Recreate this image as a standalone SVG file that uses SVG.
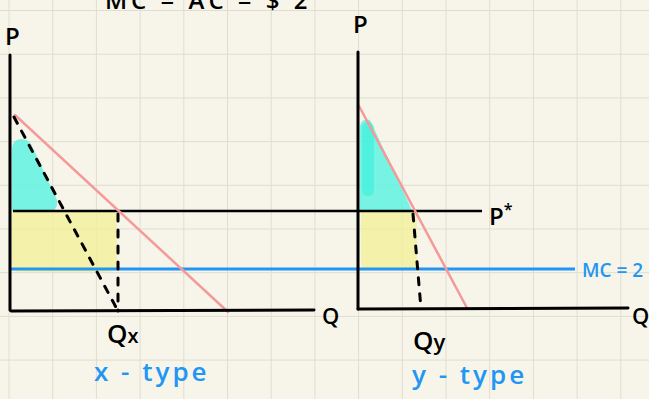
<svg xmlns="http://www.w3.org/2000/svg" width="649" height="399" viewBox="0 0 649 399">
<defs>
<pattern id="grid" x="8.5" y="10" width="43.7" height="43.7" patternUnits="userSpaceOnUse">
<path d="M0 0 H43.7 M0 0 V43.7" fill="none" stroke="#e0ddd0" stroke-width="2"/>
</pattern>
<style>
.axis{stroke:#000;stroke-width:3;fill:none;stroke-linecap:round}
.pstar{stroke:#000;stroke-width:2.5;fill:none}
.demand{stroke:#f59a9a;stroke-width:2.5;fill:none;stroke-linecap:round}
.dash{stroke:#000;stroke-width:3;fill:none;stroke-dasharray:7 9;stroke-linecap:round}
.mc{stroke:#2196f3;stroke-width:3;fill:none}
.yellow{fill:#f3f09a;opacity:0.8}
.cyan{fill:#5ff2e0;opacity:0.85}
.lbl{font-family:"Open Sans","DejaVu Sans",sans-serif;fill:#000;font-weight:600}
.blue{font-family:"Open Sans","DejaVu Sans",sans-serif;fill:#2196f3;font-weight:600}
</style>
</defs>
<rect width="649" height="399" fill="#f7f5ea"/>
<rect width="649" height="399" fill="url(#grid)"/>
<text class="lbl" x="105" y="9" font-size="24" letter-spacing="4">MC = AC = $ 2</text>

<g id="shading">
<path class="yellow" d="M12 211 H117 V262 Q117 272 107 272 H20 Q12 272 12 262 Z"/>
<path class="cyan" d="M12 150 Q12 139 22 139 Q30 139 34 150 L57 200 Q58 211 50 211 H12 Z"/>
<path class="yellow" d="M361 211 H417 V262 Q417 270 409 270 H368 Q361 270 361 262 Z"/>
<path class="cyan" d="M360 126 Q362 118 370 120 L410 206 L412 211 H360 Z"/>
<path d="M368 128 L368 190" stroke="#2cf0dc" stroke-width="12" stroke-linecap="round" opacity="0.5" fill="none"/>
</g>

<g id="connectors">
<line class="pstar" x1="13" y1="211" x2="482" y2="211"/>
<line class="mc" x1="10" y1="269" x2="575" y2="269"/>
<line class="demand" x1="15" y1="115" x2="228" y2="312"/>
<line class="dash" x1="14" y1="117" x2="118" y2="311"/>
<line class="dash" x1="118" y1="214" x2="118" y2="311"/>
<line class="demand" x1="359" y1="106" x2="467" y2="308"/>
<line class="dash" x1="413" y1="214" x2="421" y2="309"/>
</g>

<g id="left-axes">
<line class="axis" x1="10" y1="55" x2="10" y2="310"/>
<line class="axis" x1="11" y1="311" x2="314" y2="310"/>
<text class="lbl" x="5" y="45" font-size="24">P</text>
<text class="lbl" x="322" y="324" font-size="22">Q</text>
<text class="lbl" x="107" y="343" font-size="26">Q<tspan font-size="20">x</tspan></text>
<text class="blue" x="94" y="381" font-size="26" letter-spacing="3">x - type</text>
</g>

<g id="right-axes">
<line class="axis" x1="358" y1="52" x2="358" y2="309"/>
<line class="axis" x1="358" y1="309" x2="628" y2="308"/>
<text class="lbl" x="353" y="33" font-size="24">P</text>
<text class="lbl" x="632" y="324" font-size="22">Q</text>
<text class="lbl" x="489" y="225" font-size="24">P<tspan font-size="16" dy="-10">*</tspan></text>
<text class="lbl" x="413" y="350" font-size="26">Q<tspan font-size="22">y</tspan></text>
<text class="blue" x="412" y="384" font-size="26" letter-spacing="3">y - type</text>
<text class="blue" x="582" y="277" font-size="19">MC = 2</text>
</g>
</svg>
